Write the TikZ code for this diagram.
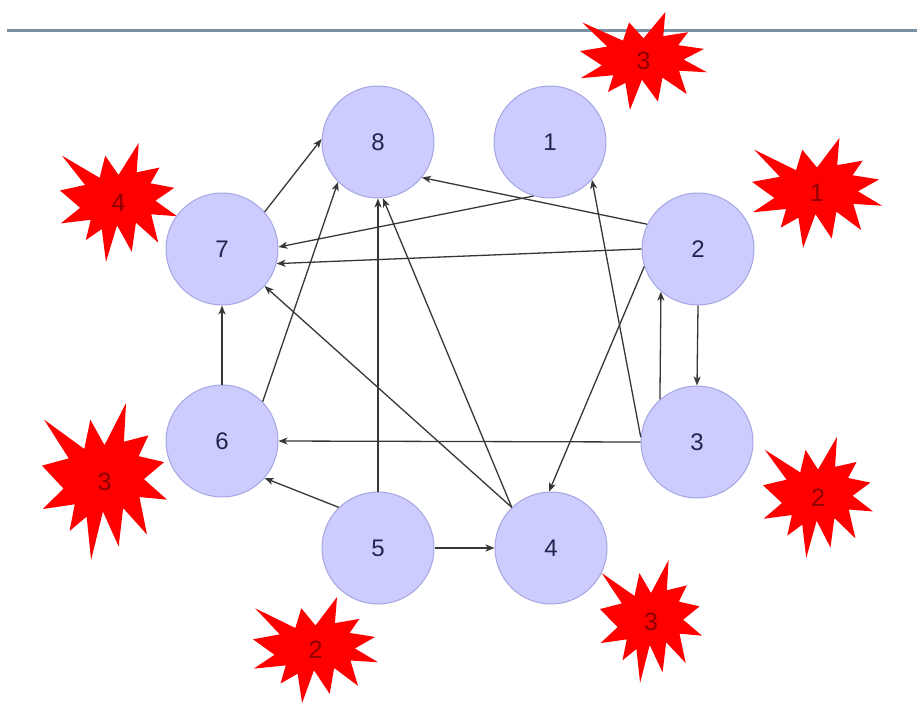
\documentclass[tikz,border=0pt]{standalone}
\usepackage{fontspec}
\setmainfont{Liberation Sans}
\usetikzlibrary{arrows.meta}
\definecolor{nodefill}{RGB}{204,204,255}
\definecolor{nodeline}{RGB}{165,165,225}
\definecolor{nodetext}{RGB}{35,35,75}
\definecolor{edgecol}{RGB}{55,55,55}
\definecolor{rulecol}{RGB}{120,145,165}
\definecolor{starred}{RGB}{255,0,0}
\definecolor{startext}{RGB}{140,0,0}
\tikzset{
  vertex/.style={circle, fill=nodefill, draw=nodeline, line width=1pt, minimum size=112pt, inner sep=0pt, text=nodetext, font=\fontsize{24}{28}\selectfont},
  edge/.style={draw=edgecol, line width=1.3pt, -{Stealth[length=9pt,width=7pt,inset=2.5pt]}},
  boomlabel/.style={text=startext, font=\fontsize{25}{28}\selectfont, inner sep=0pt}
}
\newcommand\boom[6]{%
  \begin{scope}[shift={(#1,#2)}, xscale={(#3-#1)/216}, yscale={(#4-#2)/216}]
    \fill[starred] (108,58) -- (145.22,0) -- (141.55,53.25) -- (183.80,44.57) -- (167.02,73.15) -- (210.97,81.37) -- (176.07,104.75) -- (216,132.90) -- (168.37,129.42) -- (181.45,180.95) -- (140.20,144.57) -- (132.47,197.37) -- (105.32,149.35) -- (84.85,216) -- (77.15,156.27) -- (47.62,176.17) -- (56.67,139.37) -- (1.35,145.87) -- (37.22,117.75) -- (0,86.15) -- (46.27,76.17) -- (3.70,22.95) -- (73.12,63.20) -- (83.52,22.95) -- cycle;
  \end{scope}
  \node[boomlabel] (#5) at ({(#1+#3)/2},{(#2+#4)/2}) {#6};
}
\begin{document}
\begin{tikzpicture}[x=1pt,y=-1pt]
\fill[white] (0,0) rectangle (917,704);
\useasboundingbox (0,0) rectangle (917,704);
\draw[rulecol, line width=3pt] (7,30) -- (917,30);

% bursts
\boom{580}{12}{707}{110}{b1}{3}
\boom{60}{143}{177}{262}{b2}{4}
\boom{752}{138}{882}{248}{b3}{1}
\boom{42}{403}{167}{560}{b4}{3}
\boom{763}{437}{873}{558}{b5}{2}
\boom{600}{560}{702}{683}{b6}{3}
\boom{253}{597}{378}{703}{b7}{2}

% vertices
\node[vertex] (n8) at (378,142) {8};
\node[vertex] (n1) at (550,142) {1};
\node[vertex] (n7) at (222,249) {7};
\node[vertex] (n2) at (698,249) {2};
\node[vertex] (n6) at (222,441) {6};
\node[vertex] (n3) at (697,442) {3};
\node[vertex] (n5) at (378,548) {5};
\node[vertex] (n4) at (551,548) {4};

% edges
\draw[edge] (n7.41) -- (n8.177);
\draw[edge] (n6.44) -- (n8.225);
\draw[edge] (n5.90) -- (n8.270);
\draw[edge] (n4.134) -- (n8.275);
\draw[edge] (n4.134) -- (n7.319);
\draw[edge] (n2.154) -- (n8.321);
\draw[edge] (n1.253) -- (n7.2);
\draw[edge] (n2.180) -- (n7.345);
\draw[edge] (n2.198) -- (n4.92);
\draw[edge] (n3.175) -- (n1.318);
\draw[edge] (n3.131) -- (n2.229);
\draw[edge] (n2.270) -- (n3.90);
\draw[edge] (n3.180) -- (n6.0);
\draw[edge] (n5.134) -- (n6.319);
\draw[edge, line width=1.8pt] (n5.0) -- (n4.180);
\draw[edge] (n6.90) -- (n7.270);
\end{tikzpicture}
\end{document}
